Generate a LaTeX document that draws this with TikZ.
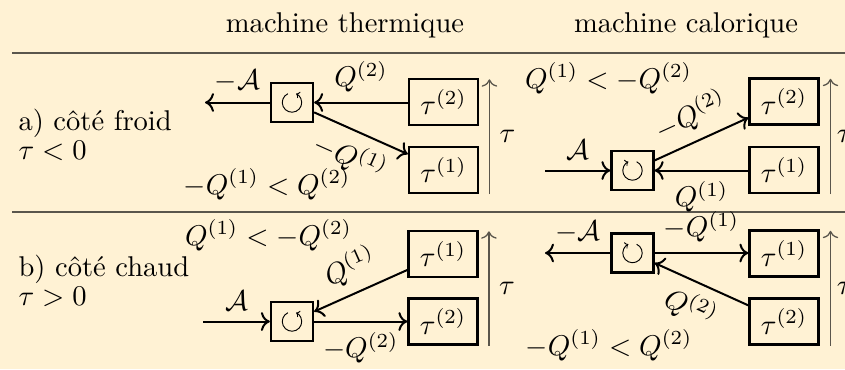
\documentclass[tikz,border=0pt]{standalone}
\usetikzlibrary{arrows.meta}
\definecolor{bgcream}{RGB}{255,242,212}
\definecolor{thinline}{RGB}{90,86,76}
\begin{document}
\begin{tikzpicture}[x=0.35pt,y=-0.35pt,
  tbox/.style={draw, line width=0.8pt, minimum width=24.15pt, minimum height=16.1pt, inner sep=0pt},
  cbox/.style={draw, line width=0.8pt, minimum width=14.7pt, minimum height=13.65pt, inner sep=0pt},
  arr/.style={->, line width=0.7pt},
  tarr/.style={->, line width=0.45pt, draw=thinline},
  hrule/.style={line width=0.5pt, draw=thinline},
  cyc/.style={line width=0.33pt, -{To[length=1.2pt,width=2.4pt]}},
  txt/.style={inner sep=0pt}]
\fill[bgcream] (0,0) rectangle (845,369);
\useasboundingbox (0,0) rectangle (845,369);
% header
\node[txt, anchor=base] (h1) at (345,32) {machine thermique};
\node[txt, anchor=base] (h2) at (686,32) {machine calorique};
\coordinate (r1a) at (12,53); \coordinate (r1b) at (845,53);
\coordinate (r2a) at (12,212); \coordinate (r2b) at (845,212);
\draw[hrule] (r1a) -- (r1b);
\draw[hrule] (r2a) -- (r2b);
% row labels
\node[txt, anchor=base west] (la1) at (18,130) {a) côté froid};
\node[txt, anchor=base west] (la2) at (18,159) {$\tau<0$};
\node[txt, anchor=base west] (lb1) at (18,276) {b) côté chaud};
\node[txt, anchor=base west] (lb2) at (18,305) {$\tau>0$};
% ---- row a, machine thermique
\node[cbox] (cA) at (292,102.5) {};
\node[tbox] (t2a) at (443.5,102) {$\tau^{(2)}$};
\node[tbox] (t1a) at (443.5,170) {$\tau^{(1)}$};
\coordinate (eA) at (205,102.5);
\draw[arr] (cA.west) -- node[above] {$-\mathcal{A}$} (eA);
\draw[arr] (t2a.west |- cA.east) -- node[above] {$Q^{(2)}$} (cA.east);
\draw[arr] (cA) -- node[below, sloped] {$-Q^{(1)}$} (t1a);
\coordinate (vA1) at ([xshift=3.6pt]t1a.south east);
\coordinate (vA2) at ([xshift=3.6pt,yshift=-0.5pt]t2a.north east);
\draw[tarr] (vA1) -- node[right] {$\tau$} (vA2);
\node[txt, anchor=base] (iA) at (267,194) {$-Q^{(1)} < Q^{(2)}$};
% ---- row a, machine calorique
\node[cbox] (cB) at (632.5,170.5) {};
\node[tbox] (t2b) at (784,101.5) {$\tau^{(2)}$};
\node[tbox] (t1b) at (784,170) {$\tau^{(1)}$};
\coordinate (sB) at (545,170.5);
\draw[arr] (sB) -- node[above] {$\mathcal{A}$} (cB.west);
\draw[arr] (t1b.west |- cB.east) -- node[below] {$Q^{(1)}$} (cB.east);
\draw[arr] (cB) -- node[above, sloped] {$-Q^{(2)}$} (t2b);
\coordinate (vB1) at ([xshift=3.8pt]t1b.south east);
\coordinate (vB2) at ([xshift=3.8pt,yshift=-0.5pt]t2b.north east);
\draw[tarr] (vB1) -- node[right, inner sep=2pt] {$\tau$} (vB2);
\node[txt, anchor=base] (iB) at (608.5,88) {$Q^{(1)} < -Q^{(2)}$};
% ---- row b, machine thermique
\node[cbox] (cC) at (292,321.5) {};
\node[tbox] (t1c) at (443,254) {$\tau^{(1)}$};
\node[tbox] (t2c) at (443,321.5) {$\tau^{(2)}$};
\coordinate (sC) at (203,321.5);
\draw[arr] (sC) -- node[above] {$\mathcal{A}$} (cC.west);
\draw[arr] (cC.east) -- node[below] {$-Q^{(2)}$} (t2c.west |- cC.east);
\draw[arr] (t1c) -- node[above, sloped] {$Q^{(1)}$} (cC);
\coordinate (vC1) at ([xshift=3.6pt]t2c.south east);
\coordinate (vC2) at ([xshift=3.6pt,yshift=-0.5pt]t1c.north east);
\draw[tarr] (vC1) -- node[right] {$\tau$} (vC2);
\node[txt, anchor=base] (iC) at (268.5,245) {$Q^{(1)} < -Q^{(2)}$};
% ---- row b, machine calorique
\node[cbox] (cD) at (632.5,253) {};
\node[tbox] (t1d) at (784,253.5) {$\tau^{(1)}$};
\node[tbox] (t2d) at (784,321.5) {$\tau^{(2)}$};
\coordinate (eD) at (545,253);
\draw[arr] (cD.west) -- node[above] {$-\mathcal{A}$} (eD);
\draw[arr] (cD.east) -- node[above] {$-Q^{(1)}$} (t1d.west |- cD.east);
\draw[arr] (t2d) -- node[below, sloped] {$Q^{(2)}$} (cD);
\coordinate (vD1) at ([xshift=3.8pt]t2d.south east);
\coordinate (vD2) at ([xshift=3.8pt,yshift=-0.5pt]t1d.north east);
\draw[tarr] (vD1) -- node[right, inner sep=2pt] {$\tau$} (vD2);
\node[txt, anchor=base] (iD) at (609,355) {$-Q^{(1)} < Q^{(2)}$};
% ---- cycle symbols (thermique: anticlockwise, calorique: clockwise)
\begin{scope}[x=1pt,y=1pt,shift={(cA.center)}]
  \draw[cyc] (115:3.4) arc[start angle=115, end angle=425, radius=3.4];
\end{scope}
\begin{scope}[x=1pt,y=1pt,shift={(cC.center)}]
  \draw[cyc] (115:3.4) arc[start angle=115, end angle=425, radius=3.4];
\end{scope}
\begin{scope}[x=1pt,y=1pt,shift={(cB.center)}]
  \draw[cyc] (65:3.4) arc[start angle=65, end angle=-245, radius=3.4];
\end{scope}
\begin{scope}[x=1pt,y=1pt,shift={(cD.center)}]
  \draw[cyc] (65:3.4) arc[start angle=65, end angle=-245, radius=3.4];
\end{scope}
\end{tikzpicture}
\end{document}
